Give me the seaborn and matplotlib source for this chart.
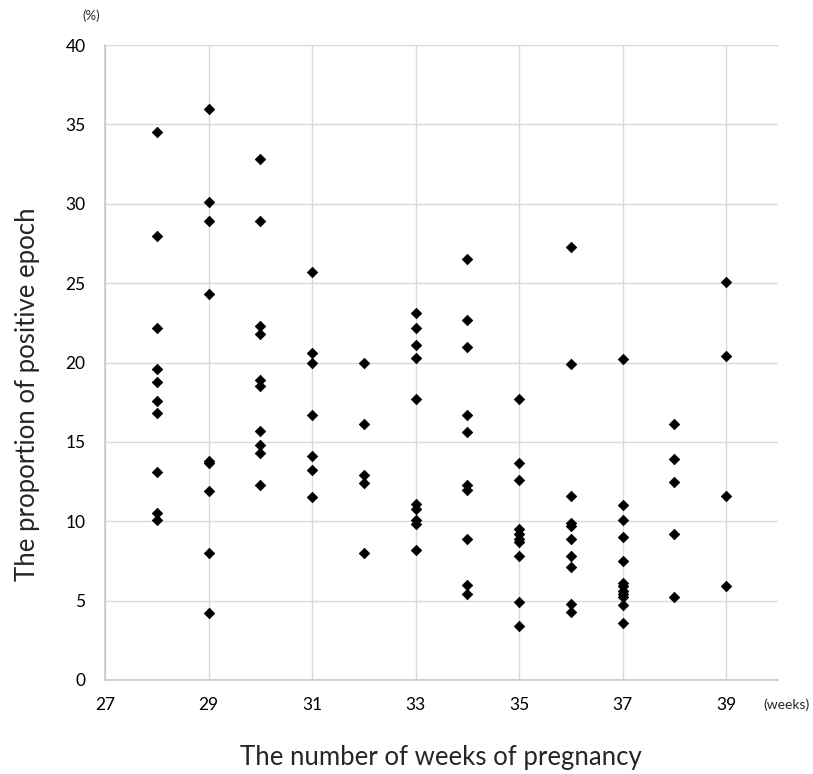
import pandas as pd
import numpy as np
import matplotlib
matplotlib.use("Agg")
import matplotlib.pyplot as plt
import seaborn as sns

# proportion of positive epoch (%) per week of pregnancy
w28 = [34.5, 28.0, 22.2, 19.6, 18.8, 17.6, 16.8, 13.1, 10.5, 10.1]
w29 = [36.0, 30.1, 28.9, 24.3, 13.8, 13.7, 11.9, 8.0, 4.2]
w30 = [32.8, 28.9, 22.3, 21.8, 18.9, 18.5, 15.7, 14.8, 14.3, 12.3]
w31 = [25.7, 20.6, 20.0, 16.7, 14.1, 13.2, 11.5]
w32 = [20.0, 16.1, 12.9, 12.4, 8.0]
w33 = [23.1, 22.2, 21.1, 20.3, 17.7, 11.1, 10.8, 10.1, 9.8, 8.2]
w34 = [26.5, 22.7, 21.0, 16.7, 15.6, 12.3, 12.0, 8.9, 6.0, 5.4]
w35 = [17.7, 13.7, 12.6, 9.5, 9.2, 8.9, 8.7, 7.8, 4.9, 3.4]
w36 = [27.3, 19.9, 11.6, 9.9, 9.7, 8.9, 7.8, 7.1, 4.8, 4.3]
w37 = [20.2, 11.0, 10.1, 9.0, 7.5, 6.1, 5.9, 5.6, 5.4, 5.2, 4.7, 3.6]
w38 = [16.1, 13.9, 12.5, 9.2, 5.2]
w39 = [25.1, 20.4, 11.6, 5.9]

weeks = [28, 29, 30, 31, 32, 33, 34, 35, 36, 37, 38, 39]
values = [w28, w29, w30, w31, w32, w33, w34, w35, w36, w37, w38, w39]

rows = []
for wk, vals in zip(weeks, values):
    for v in vals:
        rows.append({"week": wk, "prop": v})
df = pd.DataFrame(rows)

sns.set_style("white")
plt.rcParams["font.family"] = ["Lato", "DejaVu Sans"]

fig = plt.figure(figsize=(8.13, 7.74), dpi=100)
ax = fig.add_axes([105 / 813, 94 / 774, 673 / 813, 635 / 774])

sns.scatterplot(data=df, x="week", y="prop", ax=ax, marker="D", s=28,
                color="black", edgecolor="black", linewidth=0.6, zorder=3)

ax.set_xlim(27, 40)
ax.set_ylim(0, 40)
ax.set_xticks([27, 29, 31, 33, 35, 37, 39])
ax.set_yticks(range(0, 41, 5))
ax.grid(True, color="#d9d9d9", linewidth=1)
ax.set_axisbelow(True)
for s in ["top", "right"]:
    ax.spines[s].set_visible(False)
for s in ["left", "bottom"]:
    ax.spines[s].set_color("#c8c8c8")
    ax.spines[s].set_linewidth(1.2)
ax.tick_params(axis="both", length=0, labelsize=12.5, colors="black")
ax.tick_params(axis="x", pad=12)
ax.tick_params(axis="y", pad=14)
ax.set_xlabel("")
ax.set_ylabel("")

fig.text(91 / 813, 1 - 16 / 774, "(%)", fontsize=9.5, ha="center", va="center")
fig.text(786 / 813, 1 - 705 / 774, "(weeks)", fontsize=10, ha="center", va="center")
fig.text(441 / 813, 1 - 757 / 774, "The number of weeks of pregnancy",
         fontsize=18.5, ha="center", va="center")
fig.text(28 / 813, 1 - 394 / 774, "The proportion of positive epoch",
         fontsize=18.5, ha="center", va="center", rotation=90)

fig.savefig("out.png", dpi=100)
